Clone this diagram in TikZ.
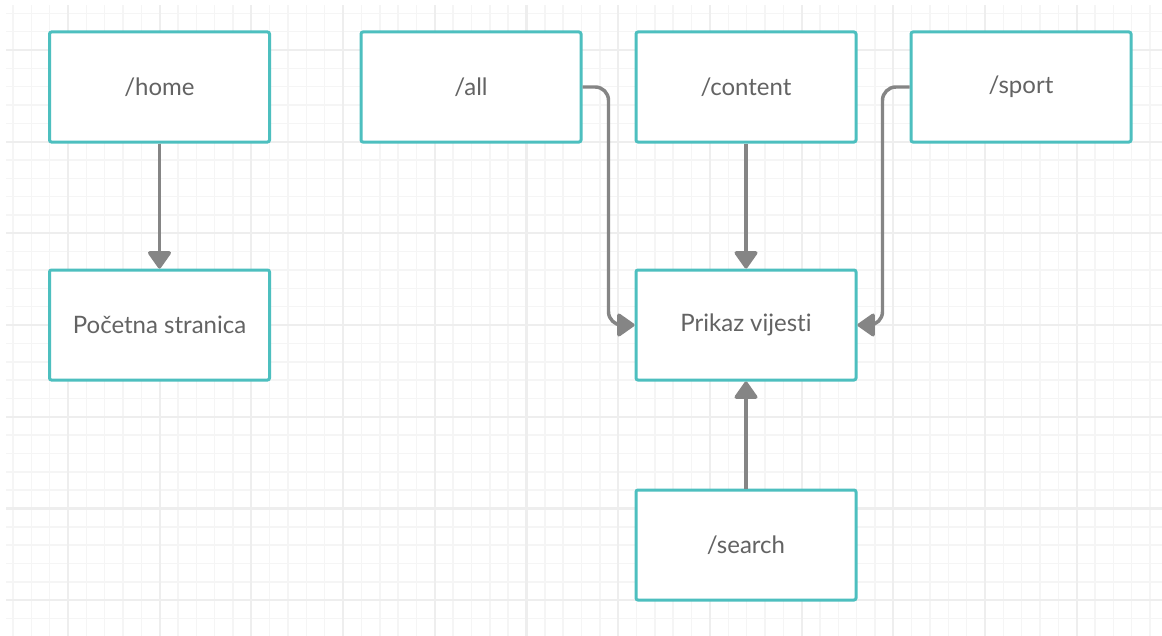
\documentclass[tikz,border=0pt]{standalone}
\usepackage{fontspec}
\setmainfont{Lato}[Ligatures={NoCommon}]
\usetikzlibrary{arrows.meta}
\definecolor{teal}{HTML}{4DBFBF}
\definecolor{conngray}{HTML}{858585}
\definecolor{txtgray}{HTML}{636363}
\definecolor{gridminor}{HTML}{F5F5F5}
\definecolor{gridmajor}{HTML}{EEEEEE}
\tikzset{
  box/.style={draw=teal, line width=2.25pt, rounded corners=1.5pt, fill=white,
    minimum width=165pt, minimum height=82.5pt, inner sep=0pt,
    font=\fontsize{18}{22}\selectfont, text=txtgray},
  conn/.style={draw=conngray, line width=2.6pt, rounded corners=10pt,
    -{Triangle[width=19pt,length=14pt,round]}},
  minorline/.style={draw=gridminor, line width=1.1pt},
  majorline/.style={draw=gridmajor, line width=1.6pt}
}
\begin{document}
\begin{tikzpicture}[x=0.75pt,y=-0.75pt]
\useasboundingbox (0,0) rectangle (1162,635);
\fill[white] (0,0) rectangle (1162,635);
% grid
\begin{scope}
\clip (6,6) rectangle (1162,635);
\foreach \i in {-3,...,59} \draw[minorline] ({68+18.34*\i},0) -- ({68+18.34*\i},640);
\foreach \j in {-2,...,33} \draw[minorline] (0,{50+18.34*\j}) -- (1170,{50+18.34*\j});
\foreach \i in {0,...,12} \draw[majorline] ({68+91.7*\i},0) -- ({68+91.7*\i},640);
\foreach \j in {0,...,6} \draw[majorline] (0,{50+91.7*\j}) -- (1170,{50+91.7*\j});
\end{scope}
% nodes
\node[box] (home) at (159.5,87) {\raisebox{-1.5pt}{/home}};
\node[box] (pocetna) at (159.5,325) {\raisebox{-1.5pt}{Početna stranica}};
\node[box] (all) at (471,87) {\raisebox{-1.5pt}{/all}};
\node[box] (content) at (746,87) {\raisebox{-1.5pt}{/content}};
\node[box] (sport) at (1021,87) {\raisebox{-1.5pt}{/sport}};
\node[box] (prikaz) at (746,325) {\raisebox{-1.5pt}{Prikaz vijesti}};
\node[box] (search) at (746,545) {\raisebox{-1.5pt}{/search}};
% connectors
\draw[conn] (home) -- (pocetna);
\draw[conn] (content) -- (prikaz);
\draw[conn] (search) -- (prikaz);
\draw[conn] (all.east) -- ++(26,0) |- (prikaz.west);
\draw[conn] (sport.west) -- ++(-27,0) |- (prikaz.east);
\end{tikzpicture}
\end{document}
